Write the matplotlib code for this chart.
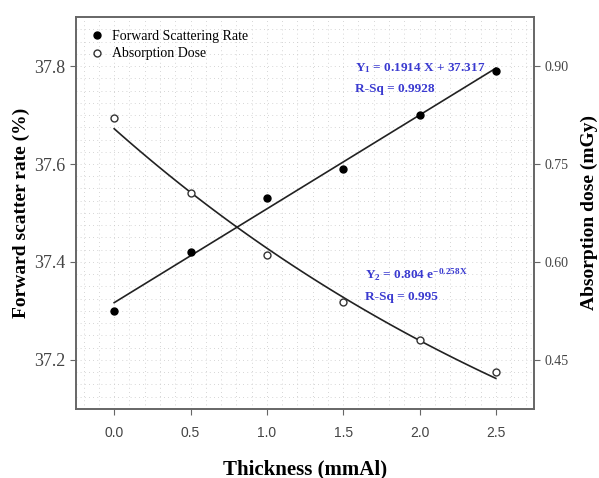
import matplotlib.pyplot as plt
import numpy as np

# data
thickness = [0.0, 0.5, 1.0, 1.5, 2.0, 2.5]
scatter_rate = [37.30, 37.42, 37.53, 37.59, 37.70, 37.79]
absorption = [0.820, 0.706, 0.611, 0.539, 0.481, 0.431]

# fit coefficients printed on the chart
lin_slope, lin_icpt = 0.1914, 37.317
exp_a, exp_b = 0.804, -0.258

serif = "Liberation Serif"
sans = "Liberation Sans"
plt.rcParams["mathtext.fontset"] = "custom"
plt.rcParams["mathtext.rm"] = serif
plt.rcParams["mathtext.it"] = serif + ":italic"
plt.rcParams["mathtext.bf"] = serif + ":bold"

fig = plt.figure(figsize=(5.99, 4.78), dpi=100)
ax = fig.add_axes([0.1269, 0.1444, 0.7646, 0.82])
ax2 = ax.twinx()

xfit = np.linspace(0, 2.5, 100)
ax.plot(xfit, lin_slope * xfit + lin_icpt, color="#222222", lw=1.2, zorder=3)
ax.plot(thickness, scatter_rate, "o", color="black", ms=5, zorder=4,
        label="Forward Scattering Rate")
ax2.plot(xfit, exp_a * np.exp(exp_b * xfit), color="#222222", lw=1.2, zorder=3)
ax2.plot(thickness, absorption, "o", mfc="white", mec="#333333", ms=5, mew=1,
         zorder=4, label="Absorption Dose")

ax.set_xlim(-0.25, 2.75)
ax.set_ylim(37.1, 37.9)
ax2.set_ylim(0.375, 0.975)
ax.set_xticks(thickness)
ax.set_xticklabels([f"{t:.1f}" for t in thickness], fontfamily=sans,
                   fontsize=10, color="#444444")
ax.set_yticks([37.2, 37.4, 37.6, 37.8])
ax.set_yticklabels(["37.2", "37.4", "37.6", "37.8"], fontfamily=serif,
                   fontsize=13, color="#444444")
ax2.set_yticks([0.45, 0.60, 0.75, 0.90])
ax2.set_yticklabels(["0.45", "0.60", "0.75", "0.90"], fontfamily=serif,
                    fontsize=10, color="#444444")
ax.tick_params(axis="x", pad=8)

# faint dotted grid
for gx in np.arange(-0.2, 2.75, 0.1):
    ax.axvline(gx, color="#c8c8c8", lw=0.6, ls=(0, (1, 4)), zorder=0)
for gy in np.arange(37.125, 37.9, 0.025):
    ax.axhline(gy, color="#c8c8c8", lw=0.6, ls=(0, (1, 4)), zorder=0)

for a in (ax, ax2):
    for s in a.spines.values():
        s.set_color("#666666")
        s.set_linewidth(1.2)
    a.tick_params(direction="out", length=4, color="#666666")

ax.set_xlabel("Thickness (mmAl)", fontfamily=serif, fontsize=15,
              fontweight="bold", labelpad=14)
ax.set_ylabel("Forward scatter rate (%)", fontfamily=serif, fontsize=14,
              fontweight="bold", labelpad=3)
ax2.set_ylabel("Absorption dose (mGy)", fontfamily=serif, fontsize=14,
               fontweight="bold", labelpad=9)

h1, l1 = ax.get_legend_handles_labels()
h2, l2 = ax2.get_legend_handles_labels()
ax2.legend(h1 + h2, l1 + l2, loc="upper left", frameon=False,
           prop={"family": serif, "size": 10}, handletextpad=0.5,
           handlelength=1.2, borderaxespad=0.5, labelspacing=0.35)

blue = "#3a3ad0"
ax.text(1.575, 37.796, r"Y$_\mathbf{1}$ = 0.1914 X + 37.317", color=blue,
        fontfamily=serif, fontsize=9.5, fontweight="bold", ha="left",
        va="center")
ax.text(1.575, 37.753, "R-Sq = 0.9928", color=blue, fontfamily=serif,
        fontsize=9.5, fontweight="bold", ha="left", va="center")
ax.text(1.64, 37.373, r"Y$_\mathbf{2}$ = 0.804 e$^{\mathbf{-0.258X}}$",
        color=blue, fontfamily=serif, fontsize=9.5, fontweight="bold",
        ha="left", va="center")
ax.text(1.64, 37.329, "R-Sq = 0.995", color=blue, fontfamily=serif,
        fontsize=9.5, fontweight="bold", ha="left", va="center")

fig.savefig("out.png", dpi=100)
